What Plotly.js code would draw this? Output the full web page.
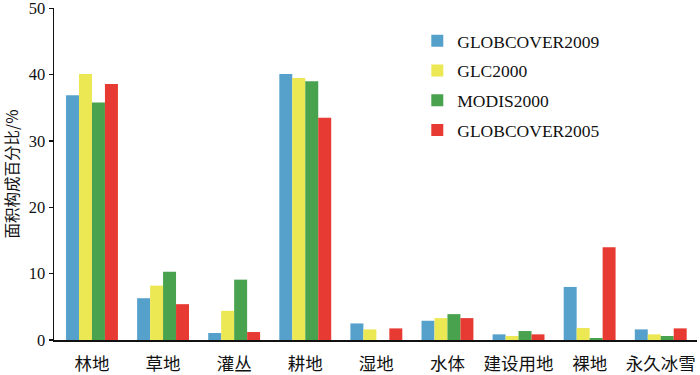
<!DOCTYPE html>
<html><head><meta charset="utf-8">
<script src="https://cdn.plot.ly/plotly-3.0.1.min.js"></script>
<style>body{margin:0;padding:0;background:#fff}#chart{width:700px;height:375px}</style>
</head><body><div id="chart"></div>
<script>
const categories = ["林地","草地","灌丛","耕地","湿地","水体","建设用地","裸地","永久冰雪"];
const seriesNames = ["GLOBCOVER2009","GLC2000","MODIS2000","GLOBCOVER2005"];
const globcover2009 = [36.9, 6.3, 1.05, 40.1, 2.5, 2.9, 0.85, 8.0, 1.6];
const glc2000 = [40.1, 8.2, 4.4, 39.5, 1.6, 3.3, 0.6, 1.8, 0.85];
const modis2000 = [35.8, 10.3, 9.1, 39.0, 0, 3.9, 1.35, 0.3, 0.6];
const globcover2005 = [38.6, 5.4, 1.2, 33.5, 1.75, 3.3, 0.85, 14.0, 1.75];
const yTicks = [0, 10, 20, 30, 40, 50];
const colors = ["#56a1cc","#ebe853","#49a24d","#e63a32"];
const allSeries = [globcover2009, glc2000, modis2000, globcover2005];

const font = "'Liberation Serif', 'Noto Sans CJK SC', serif";
const traces = allSeries.map((vals, i) => ({
  type: "bar",
  name: seriesNames[i],
  x: categories,
  y: vals,
  marker: {color: colors[i], line: {width: 0}},
  legendgroup: "g" + i
}));

const layout = {
  width: 700, height: 375,
  margin: {l: 54, r: 3, t: 8, b: 35},
  paper_bgcolor: "#fff", plot_bgcolor: "#fff",
  barmode: "group", bargap: 0.27, bargroupgap: 0,
  font: {family: font, color: "#111", size: 16},
  showlegend: true,
  legend: {x: 0.565, y: 0.955, xanchor: "left", yanchor: "top",
    font: {family: font, size: 17.5, color: "#111"},
    traceorder: "grouped", tracegroupgap: 4,
    bgcolor: "rgba(0,0,0,0)", itemwidth: 30},
  xaxis: {type: "category", range: [-0.534, 8.51], showgrid: false, zeroline: false,
    showline: true, linecolor: "#111", linewidth: 1.5, ticks: "",
    ticklabelstandoff: 7,
    tickfont: {family: "'Noto Sans CJK SC'", size: 17.5, color: "#111"}},
  yaxis: {range: [0, 50.05], tickmode: "array", tickvals: yTicks, ticktext: yTicks.map(String),
    ticklabeloverflow: "allow",
    showgrid: false, zeroline: false,
    showline: true, linecolor: "#111", linewidth: 1.5, ticks: "outside", ticklen: 4, tickwidth: 1.2,
    tickcolor: "#111",
    tickfont: {family: font, size: 16.5, color: "#111"},
    title: {text: "面积构成百分比/%", font: {family: "'Noto Sans CJK SC'", size: 15.5, color: "#111"}, standoff: 8}}
};
Plotly.newPlot("chart", traces, layout, {displayModeBar: false, staticPlot: true});
</script></body></html>
